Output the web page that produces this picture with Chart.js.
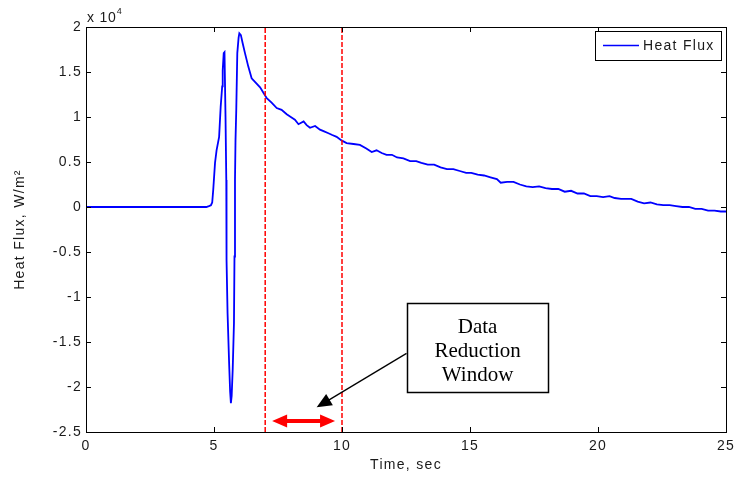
<!DOCTYPE html>
<html lang="en">
<head>
<meta charset="UTF-8" />
<title>Heat Flux</title>
<style>
  html, body { margin: 0; padding: 0; background: #fff; }
  canvas { display: block; }
</style>
</head>
<body>
<canvas id="chart" width="735" height="478"></canvas>

<script src="https://cdn.jsdelivr.net/npm/chart.js"></script>
<script>
// measured heat flux, values in units of 10^4 W/m^2
const timeSec = [
  0, 4.70, 4.80, 4.88, 4.93, 4.97, 5.04, 5.10, 5.20, 5.26, 5.32, 5.34, 5.38, 5.41,
  5.45, 5.48, 5.49, 5.53, 5.59, 5.63, 5.66, 5.69, 5.73, 5.78, 5.80, 5.82, 5.84,
  5.87, 5.91, 5.96, 5.99, 6.05, 6.12, 6.21, 6.34, 6.47, 6.60, 6.80, 6.93, 7.06,
  7.25, 7.45, 7.64, 7.84, 8.00, 8.16, 8.30, 8.50, 8.62, 8.75, 8.95, 9.14, 9.30,
  9.47, 9.62, 9.79, 9.98, 10.18, 10.45, 10.70, 10.95, 11.16, 11.35, 11.55, 11.74,
  11.95, 12.15, 12.40, 12.66, 12.90, 13.10, 13.35, 13.60, 13.85, 14.10, 14.35,
  14.60, 14.85, 15.05, 15.30, 15.55, 15.80, 16.05, 16.20, 16.45, 16.70, 16.95,
  17.20, 17.45, 17.70, 17.95, 18.20, 18.45, 18.70, 18.95, 19.20, 19.45, 19.70,
  19.95, 20.20, 20.45, 20.65, 20.90, 21.10, 21.30, 21.55, 21.80, 22.05, 22.30,
  22.55, 22.80, 23.05, 23.30, 23.55, 23.80, 24.05, 24.30, 24.55, 24.80, 25.00
];
const heatFlux = [
  0, 0, 0.01, 0.02, 0.05, 0.19, 0.49, 0.63, 0.78, 1.11, 1.34, 1.52, 1.71, 1.72,
  1.00, 0.30, -0.59, -1.18, -1.73, -2.05, -2.18, -2.10, -1.81, -1.29, -0.55, 0.30, 0.74,
  1.08, 1.71, 1.88, 1.93, 1.91, 1.82, 1.71, 1.56, 1.43, 1.39, 1.33, 1.27, 1.21,
  1.16, 1.10, 1.08, 1.03, 1.00, 0.97, 0.92, 0.95, 0.91, 0.88, 0.90, 0.86, 0.84,
  0.82, 0.80, 0.78, 0.74, 0.71, 0.70, 0.69, 0.65, 0.61, 0.63, 0.60, 0.58,
  0.58, 0.55, 0.54, 0.51, 0.51, 0.49, 0.47, 0.47, 0.44, 0.42, 0.42,
  0.40, 0.38, 0.38, 0.36, 0.35, 0.33, 0.31, 0.27, 0.28, 0.28, 0.25,
  0.23, 0.22, 0.23, 0.21, 0.20, 0.20, 0.17, 0.18, 0.15, 0.15, 0.12,
  0.12, 0.11, 0.12, 0.10, 0.09, 0.09, 0.09, 0.06, 0.04, 0.05, 0.03,
  0.02, 0.02, 0.01, 0.00, 0.00, -0.02, -0.02, -0.04, -0.04, -0.05, -0.05
];

const xTicks = [0, 5, 10, 15, 20, 25];
const yTicks = [-2.5, -2, -1.5, -1, -0.5, 0, 0.5, 1, 1.5, 2];

// data reduction window, sec
const windowStart = 7;
const windowEnd = 10;

// callout and arrows, in axis units
const callout = {
  lines: ['Data', 'Reduction', 'Window'],
  x1: 12.54, x2: 18.05, y1: -1.067, y2: -2.056,
  arrowFrom: { x: 12.52, y: -1.626 },
  arrowTo: { x: 9.01, y: -2.226 }
};
const spanArrow = { x1: 7.27, x2: 9.73, y: -2.378 };

const sans = '"Liberation Sans", Arial, Helvetica, sans-serif';
const serif = '"Liberation Serif", "Times New Roman", serif';
const textColor = '#1a1a1a';
const spacing = '1.3px';

function arrowHead(ctx, tipX, tipY, fromX, fromY, len, half) {
  const a = Math.atan2(tipY - fromY, tipX - fromX);
  const bx = tipX - Math.cos(a) * len, by = tipY - Math.sin(a) * len;
  ctx.beginPath();
  ctx.moveTo(tipX, tipY);
  ctx.lineTo(bx + Math.sin(a) * half, by - Math.cos(a) * half);
  ctx.lineTo(bx - Math.sin(a) * half, by + Math.cos(a) * half);
  ctx.closePath();
  ctx.fill();
}

// wide axis lettering
const spacingPlugin = {
  id: 'spacing',
  beforeUpdate(chart) { chart.ctx.letterSpacing = spacing; },
  beforeDraw(chart) { chart.ctx.letterSpacing = spacing; }
};

// box, inward ticks, legend, exponent and the callout
const framePlugin = {
  id: 'frame',
  afterDraw(chart) {
    const ctx = chart.ctx;
    const { left, right, top, bottom } = chart.chartArea;
    const xs = chart.scales.x, ys = chart.scales.y;
    ctx.save();

    ctx.strokeStyle = '#000';
    ctx.lineWidth = 1;
    ctx.strokeRect(left + 0.5, top + 0.5, right - left, bottom - top);

    ctx.beginPath();
    xTicks.forEach(v => {
      const px = Math.round(xs.getPixelForValue(v)) + 0.5;
      ctx.moveTo(px, bottom); ctx.lineTo(px, bottom - 5);
      ctx.moveTo(px, top); ctx.lineTo(px, top + 5);
    });
    yTicks.forEach(v => {
      const py = Math.round(ys.getPixelForValue(v)) + 0.5;
      ctx.moveTo(left, py); ctx.lineTo(left + 5, py);
      ctx.moveTo(right, py); ctx.lineTo(right - 5, py);
    });
    ctx.stroke();

    // x 10^4
    ctx.letterSpacing = '0.8px';
    ctx.fillStyle = textColor;
    ctx.textBaseline = 'alphabetic';
    ctx.textAlign = 'left';
    ctx.font = '14px ' + sans;
    ctx.fillText('x 10', left + 1, top - 5);
    const w = ctx.measureText('x 10').width;
    ctx.font = '9px ' + sans;
    ctx.fillText('4', left + w + 1, top - 13);

    // legend
    const lg = { x: 595, y: 31, w: 126, h: 29 };
    ctx.fillStyle = '#fff';
    ctx.fillRect(lg.x, lg.y, lg.w, lg.h);
    ctx.strokeStyle = '#000';
    ctx.strokeRect(lg.x + 0.5, lg.y + 0.5, lg.w, lg.h);
    ctx.strokeStyle = '#0000ff';
    ctx.lineWidth = 1.5;
    ctx.beginPath();
    ctx.moveTo(lg.x + 8, lg.y + 14.5);
    ctx.lineTo(lg.x + 44, lg.y + 14.5);
    ctx.stroke();
    ctx.letterSpacing = spacing;
    ctx.fillStyle = textColor;
    ctx.font = '14px ' + sans;
    ctx.textBaseline = 'middle';
    ctx.fillText(chart.data.datasets[2].label, lg.x + 48, lg.y + 15);

    // red double arrow over the window
    const ax1 = xs.getPixelForValue(spanArrow.x1);
    const ax2 = xs.getPixelForValue(spanArrow.x2);
    const ay = ys.getPixelForValue(spanArrow.y);
    ctx.strokeStyle = '#ff0000';
    ctx.fillStyle = '#ff0000';
    ctx.lineWidth = 4;
    ctx.beginPath();
    ctx.moveTo(ax1 + 10, ay); ctx.lineTo(ax2 - 10, ay);
    ctx.stroke();
    arrowHead(ctx, ax1, ay, ax2, ay, 15, 6.5);
    arrowHead(ctx, ax2, ay, ax1, ay, 15, 6.5);

    // callout box
    const bx1 = xs.getPixelForValue(callout.x1), bx2 = xs.getPixelForValue(callout.x2);
    const by1 = ys.getPixelForValue(callout.y1), by2 = ys.getPixelForValue(callout.y2);
    ctx.fillStyle = '#fff';
    ctx.fillRect(bx1, by1, bx2 - bx1, by2 - by1);
    ctx.strokeStyle = '#000';
    ctx.lineWidth = 1.5;
    ctx.strokeRect(Math.round(bx1) + 0.5, Math.round(by1) + 0.5, Math.round(bx2 - bx1), Math.round(by2 - by1));
    ctx.letterSpacing = '0px';
    ctx.fillStyle = '#000';
    ctx.font = '21px ' + serif;
    ctx.textAlign = 'center';
    ctx.textBaseline = 'middle';
    const cx = (bx1 + bx2) / 2, cy = (by1 + by2) / 2;
    callout.lines.forEach((t, i) => {
      ctx.fillText(t, cx, cy + (i - 1) * 24 + 4);
    });

    // black pointer arrow
    const fx = xs.getPixelForValue(callout.arrowFrom.x), fy = ys.getPixelForValue(callout.arrowFrom.y);
    const tx = xs.getPixelForValue(callout.arrowTo.x), ty = ys.getPixelForValue(callout.arrowTo.y);
    ctx.lineWidth = 1.3;
    ctx.beginPath();
    ctx.moveTo(fx, fy);
    ctx.lineTo(tx + (fx - tx) * 0.12, ty + (fy - ty) * 0.12);
    ctx.stroke();
    arrowHead(ctx, tx, ty, fx, fy, 15, 6.5);

    ctx.restore();
  }
};

new Chart(document.getElementById('chart').getContext('2d'), {
  type: 'line',
  data: {
    datasets: [
      {
        label: 'start',
        data: [{ x: windowStart, y: -2.5 }, { x: windowStart, y: 2 }],
        borderColor: '#ff0000',
        borderWidth: 1.5,
        borderDash: [5, 2],
        pointRadius: 0,
        order: 0
      },
      {
        label: 'end',
        data: [{ x: windowEnd, y: -2.5 }, { x: windowEnd, y: 2 }],
        borderColor: '#ff0000',
        borderWidth: 1.5,
        borderDash: [5, 2],
        pointRadius: 0,
        order: 1
      },
      {
        label: 'Heat Flux',
        data: timeSec.map((t, i) => ({ x: t, y: heatFlux[i] })),
        borderColor: '#0000ff',
        borderWidth: 1.8,
        pointRadius: 0,
        tension: 0,
        order: 2
      }
    ]
  },
  options: {
    responsive: false,
    animation: false,
    layout: { padding: { top: 27, right: 9, left: 0, bottom: 0 } },
    plugins: {
      legend: { display: false },
      tooltip: { enabled: false }
    },
    scales: {
      x: {
        type: 'linear',
        min: 0,
        max: 25,
        afterBuildTicks: s => { s.ticks = xTicks.map(v => ({ value: v })); },
        afterFit: s => { s.height = 46; s.paddingLeft = 0; s.paddingRight = 0; },
        grid: { display: false, drawTicks: false },
        border: { display: false },
        ticks: {
          padding: 6,
          color: textColor,
          font: { family: sans, size: 14 },
          maxRotation: 0,
          callback: v => String(v)
        },
        title: {
          display: true,
          text: 'Time, sec',
          color: textColor,
          font: { family: sans, size: 14 },
          padding: { top: 0, bottom: 4 }
        }
      },
      y: {
        type: 'linear',
        min: -2.5,
        max: 2,
        afterBuildTicks: s => { s.ticks = yTicks.map(v => ({ value: v })); },
        afterFit: s => { s.width = 86; s.paddingTop = 0; s.paddingBottom = 0; },
        grid: { display: false, drawTicks: false },
        border: { display: false },
        ticks: {
          padding: 4,
          color: textColor,
          font: { family: sans, size: 14 },
          callback: v => String(v)
        },
        title: {
          display: true,
          text: 'Heat Flux, W/m²',
          color: textColor,
          font: { family: sans, size: 14 },
          padding: { top: 12, bottom: 0 }
        }
      }
    }
  },
  plugins: [spacingPlugin, framePlugin]
});
</script>
</body>
</html>
